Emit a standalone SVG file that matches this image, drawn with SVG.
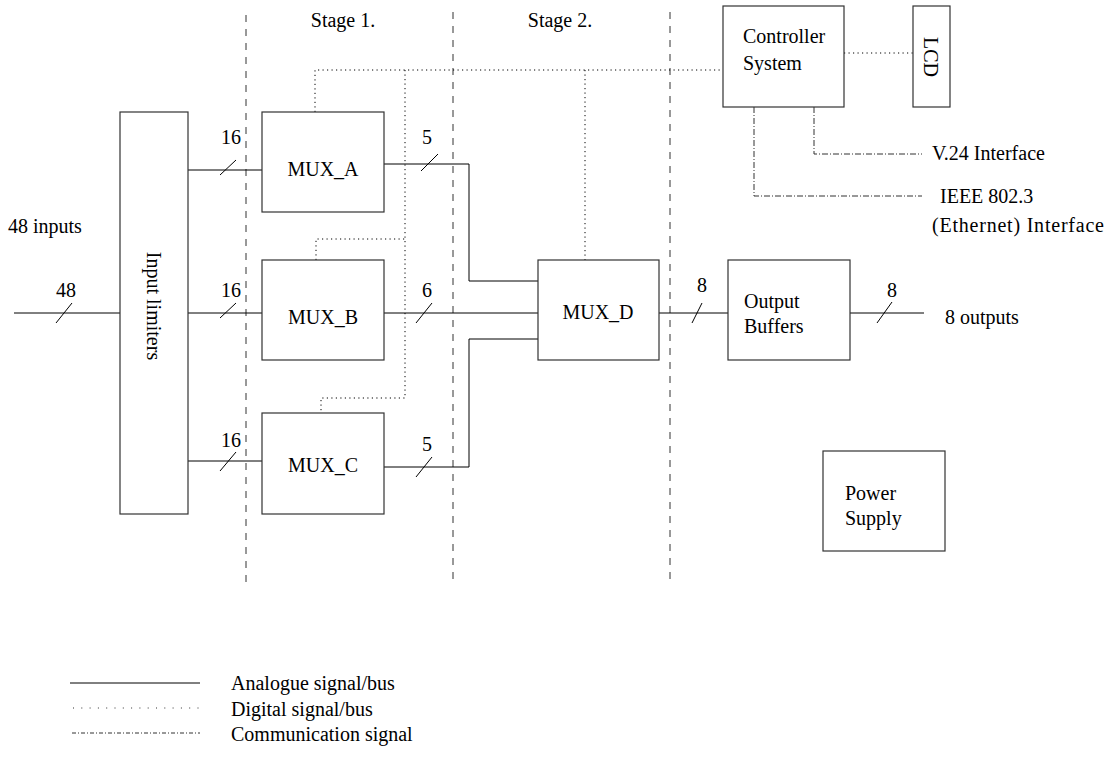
<svg xmlns="http://www.w3.org/2000/svg" width="1107" height="760" viewBox="0 0 1107 760">
<style>
text{font-family:"Liberation Serif","Times New Roman",serif;font-size:20px;fill:#000}
.box{fill:#fff;stroke:#333;stroke-width:1.2}
.an{fill:none;stroke:#000;stroke-width:1}
.dig{fill:none;stroke:#000;stroke-width:1;stroke-dasharray:1.2 3.3}
.com{fill:none;stroke:#333;stroke-width:1;stroke-dasharray:6 2 1 2}
.stage{fill:none;stroke:#333;stroke-width:1;stroke-dasharray:7 7}
.mid{text-anchor:middle}
</style>
<rect width="1107" height="760" fill="#fff"/>
<g id="stages">
<path class="stage" d="M246,15V588M453,12V584M670,12V584"/>
<text class="mid" x="343" y="27">Stage 1.</text>
<text class="mid" x="560" y="27">Stage 2.</text>
</g>
<g id="connectors">
<path class="an" d="M14,313H120M188,170H262M188,313H262M188,461H262M384,164H469V281H538M384,313H538M384,467H469V339H538M659,313H728M850,313H924"/>
<path class="an" d="M56,323L72,303M220,175L236,160M220,318L236,303M220,471L236,452M421,171L438,154M416,323L432,303M416,477L432,457M692,323L702,303M877,323L892,302"/>
<path class="dig" d="M315,112V70H723M405,70V398H321V413M316,260V239H405M585,70V260M844,53H913"/>
<path class="com" d="M814,107V154H922M754,107V196H922"/>
<text class="mid" x="66" y="297">48</text>
<text class="mid" x="231" y="144">16</text>
<text class="mid" x="231" y="297">16</text>
<text class="mid" x="231" y="447">16</text>
<text class="mid" x="427" y="144">5</text>
<text class="mid" x="427" y="297">6</text>
<text class="mid" x="427" y="451">5</text>
<text class="mid" x="702" y="292">8</text>
<text class="mid" x="892" y="297">8</text>
<text x="8" y="233">48 inputs</text>
<text x="945" y="324">8 outputs</text>
<text x="932" y="160">V.24 Interface</text>
<text x="940" y="203">IEEE 802.3</text>
<text x="932" y="232" textLength="172" lengthAdjust="spacing">(Ethernet) Interface</text>
</g>
<g id="input-limiters">
<rect class="box" x="120" y="112" width="68" height="402"/>
<text class="mid" transform="translate(154,306) rotate(90)" dominant-baseline="central">Input limiters</text>
</g>
<g id="mux-a">
<rect class="box" x="262" y="112" width="122" height="100"/>
<text class="mid" x="323" y="176">MUX_A</text>
</g>
<g id="mux-b">
<rect class="box" x="262" y="260" width="122" height="100"/>
<text class="mid" x="323" y="324">MUX_B</text>
</g>
<g id="mux-c">
<rect class="box" x="262" y="413" width="122" height="101"/>
<text class="mid" x="323" y="472">MUX_C</text>
</g>
<g id="mux-d">
<rect class="box" x="538" y="260" width="121" height="100"/>
<text class="mid" x="598" y="319">MUX_D</text>
</g>
<g id="output-buffers">
<rect class="box" x="728" y="260" width="122" height="100"/>
<text x="744" y="308">Output</text>
<text x="744" y="333">Buffers</text>
</g>
<g id="controller">
<rect class="box" x="723" y="6" width="121" height="101"/>
<text x="743" y="43">Controller</text>
<text x="743" y="70">System</text>
</g>
<g id="lcd">
<rect class="box" x="913" y="6" width="37" height="101"/>
<text class="mid" transform="translate(931,57) rotate(90)" dominant-baseline="central">LCD</text>
</g>
<g id="power-supply">
<rect class="box" x="823" y="451" width="122" height="100"/>
<text x="845" y="500">Power</text>
<text x="845" y="525">Supply</text>
</g>
<g id="legend">
<path class="an" d="M70,683H200"/>
<path fill="none" stroke="#333" stroke-width="1" stroke-dasharray="1 7.3" d="M73,708H200"/>
<path fill="none" stroke="#333" stroke-width="1" stroke-dasharray="4 2 1 2" d="M72,733H200"/>
<text x="231" y="690">Analogue signal/bus</text>
<text x="231" y="716">Digital signal/bus</text>
<text x="231" y="741">Communication signal</text>
</g>
</svg>
